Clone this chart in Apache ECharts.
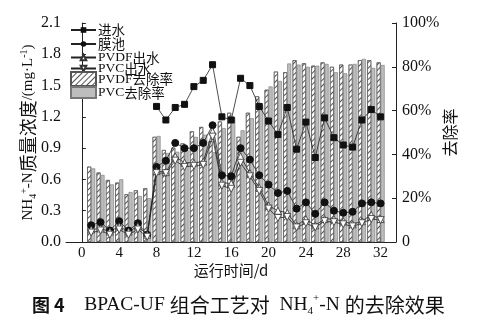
<!DOCTYPE html>
<html>
<head>
<meta charset="utf-8">
<script src="https://cdn.jsdelivr.net/npm/echarts@6/dist/echarts.min.js"></script>
<style>
  html, body { margin: 0; padding: 0; background: #fff; }
  #chart { width: 494px; height: 322px; }
</style>
</head>
<body>
<div id="chart"></div>
<script>
// Operating day
const days = [1, 2, 3, 4, 5, 6, 7, 8, 9, 10, 11, 12, 13, 14, 15, 16,
              17, 18, 19, 20, 21, 22, 23, 24, 25, 26, 27, 28, 29, 30, 31, 32];
// NH4+-N concentration, mg/L
const influent = [null, null, null, null, null, null, null, 1.30, 1.17, 1.29, 1.32, 1.49, 1.55, 1.70, 1.20, 1.17,
                  1.57, 1.50, 1.30, 1.16, 1.03, 1.29, 0.89, 1.15, 0.81, 1.19, 1.00, 0.93, 0.91, 1.17, 1.27, 1.20];
const tank = [0.16, 0.19, 0.11, 0.20, 0.11, 0.18, 0.07, 0.72, 0.78, 0.95, 0.90, 0.90, 0.95, 1.12, 0.64, 0.63,
              0.90, 0.79, 0.64, 0.55, 0.47, 0.49, 0.32, 0.38, 0.27, 0.38, 0.30, 0.28, 0.29, 0.37, 0.38, 0.37];
const pvdfOut = [0.12, 0.13, 0.10, 0.15, 0.10, 0.15, 0.07, 0.68, 0.67, 0.82, 0.76, 0.76, 0.77, 1.06, 0.57, 0.56,
                 0.82, 0.66, 0.52, 0.35, 0.30, 0.28, 0.16, 0.22, 0.16, 0.22, 0.22, 0.20, 0.17, 0.20, 0.26, 0.22];
const pvcOut = [0.09, 0.11, 0.07, 0.12, 0.07, 0.12, 0.05, 0.66, 0.66, 0.78, 0.72, 0.73, 0.74, 1.01, 0.54, 0.51,
                0.76, 0.63, 0.49, 0.32, 0.23, 0.24, 0.14, 0.18, 0.14, 0.20, 0.19, 0.17, 0.15, 0.18, 0.22, 0.21];
// Removal rate, %
const pvdfRate = [34.4, 31.7, 28.3, 27.1, 21.8, 23.6, 24.5, 48.0, 42.0, 43.0, 45.0, 50.5, 52.5, 46.0, 55.0, 59.0,
                  48.0, 59.0, 66.5, 69.5, 77.8, 77.5, 83.0, 81.6, 80.5, 82.0, 80.0, 81.0, 81.0, 83.0, 83.0, 82.0];
const pvcRate = [33.6, 30.6, 26.3, 28.6, 22.8, 21.0, 20.0, 48.4, 40.6, 41.2, 42.0, 48.0, 49.0, 41.0, 52.0, 57.0,
                 51.0, 56.5, 62.5, 71.0, 73.5, 81.5, 81.0, 80.0, 80.5, 81.3, 77.5, 77.0, 81.3, 83.6, 79.5, 80.8];
// Axis ticks
const dayTicks = [0, 4, 8, 12, 16, 20, 24, 28, 32];

const names = ['进水', '膜池', 'PVDF出水', 'PVC出水', 'PVDF去除率', 'PVC去除率'];

const SERIF = "'Liberation Serif', 'Noto Sans CJK SC', serif";
const CJK = "'Noto Sans CJK SC', sans-serif";

const pair = (ys) => days.map((d, i) => [d, ys[i]]);

const lineBase = {
  type: 'line',
  yAxisIndex: 0,
  z: 5,
  lineStyle: { color: '#222', width: 0.8 },
  symbolSize: 6,
  connectNulls: false
};

// one legend block per row so the rows sit tightly stacked
const rowCenters = [30, 44, 57.5, 68.5, 79, 92.5];
const rowIconHeights = [7, 7, 7, 7, 14, 11];
const TEXT_LH = 16;
const legends = names.map((name, i) => {
  const isBar = i >= 4;
  const h = rowIconHeights[i];
  const box = Math.max(h, TEXT_LH);
  return {
    data: isBar ? [{ name, icon: 'rect' }] : [name],
    orient: 'vertical',
    left: 70,
    top: rowCenters[i] - box / 2,
    padding: 0,
    itemWidth: 25,
    itemHeight: h,
    symbolRotate: 'inherit',
    formatter: (n) => n.replace(/([\u4e00-\u9fff]+)/g, '{c|$1}'),
    textStyle: {
      fontFamily: SERIF,
      fontSize: 13.5,
      lineHeight: TEXT_LH,
      color: '#111',
      padding: [0, 0, 0, -3],
      rich: { c: { fontFamily: CJK, fontSize: 13.5, lineHeight: TEXT_LH, color: '#111' } }
    }
  };
});

const chart = echarts.init(document.getElementById('chart'), null, { renderer: 'canvas' });

chart.setOption({
  animation: false,
  backgroundColor: '#fff',
  title: {
    left: 27,
    top: 288,
    text: '{hb|图 4}{n|    BPAC-UF }{c|组合工艺对}{n|  NH}{sb|4}{sp|+}{n|-N }{c|的去除效果}',
    textStyle: {
      fontWeight: 'normal',
      rich: {
        hb: { fontFamily: CJK, fontWeight: 'bold', fontSize: 18, color: '#111' },
        n: { fontFamily: SERIF, fontWeight: 'normal', fontSize: 19.5, color: '#111' },
        c: { fontFamily: CJK, fontWeight: 'normal', fontSize: 20, color: '#111' },
        sb: { fontFamily: SERIF, fontWeight: 'normal', fontSize: 11, color: '#111', verticalAlign: 'bottom', lineHeight: 24 },
        sp: { fontFamily: SERIF, fontWeight: 'normal', fontSize: 11, color: '#111', verticalAlign: 'top', lineHeight: 24 }
      }
    }
  },
  legend: legends,
  grid: { left: 66, right: 98, top: 23, bottom: 80 },
  xAxis: {
    type: 'value',
    min: -1.7,
    max: 33.65,
    name: '运行时间/d',
    nameLocation: 'middle',
    nameGap: 21,
    nameMoveOverlap: false,
    nameTextStyle: { fontFamily: CJK, fontSize: 15, color: '#111' },
    axisLine: { lineStyle: { color: '#222', width: 1 } },
    axisTick: { inside: true, length: 4, customValues: dayTicks, lineStyle: { color: '#222' } },
    axisLabel: { customValues: dayTicks, fontFamily: SERIF, fontSize: 15, color: '#111', margin: 4 },
    splitLine: { show: false }
  },
  yAxis: [
    {
      type: 'value',
      min: 0,
      max: 2.1,
      interval: 0.3,
      name: '{n|NH}{sb|4}{sp|+}{n|-N}{c|质量浓度}{n|/(mg·L}{sp|-1}{n|)}',
      nameLocation: 'middle',
      nameRotate: 90,
      nameGap: 28,
      nameMoveOverlap: false,
      nameTextStyle: {
        rich: {
          n: { fontFamily: SERIF, fontSize: 15, color: '#111' },
          c: { fontFamily: CJK, fontSize: 18, color: '#111' },
          sb: { fontFamily: SERIF, fontSize: 10, color: '#111', verticalAlign: 'bottom', lineHeight: 19 },
          sp: { fontFamily: SERIF, fontSize: 10, color: '#111', verticalAlign: 'top', lineHeight: 19 }
        }
      },
      axisLine: { show: true, lineStyle: { color: '#222', width: 1 } },
      axisTick: { show: true, inside: true, length: 4, lineStyle: { color: '#222' } },
      axisLabel: {
        fontFamily: SERIF, fontSize: 16, color: '#111', margin: 5,
        formatter: (v) => v.toFixed(1)
      },
      splitLine: { show: false }
    },
    {
      type: 'value',
      min: 0,
      max: 100,
      interval: 20,
      position: 'right',
      name: '去除率',
      nameLocation: 'middle',
      nameRotate: 90,
      nameGap: 46,
      nameMoveOverlap: false,
      nameTextStyle: { fontFamily: CJK, fontSize: 16, color: '#111' },
      axisLine: { show: true, lineStyle: { color: '#222', width: 1 } },
      axisTick: { show: true, inside: true, length: 4, lineStyle: { color: '#222' } },
      axisLabel: {
        fontFamily: SERIF, fontSize: 16, color: '#111', margin: 6,
        formatter: (v) => (v === 0 ? '0' : v + '%')
      },
      splitLine: { show: false }
    }
  ],
  series: [
    {
      ...lineBase,
      name: '进水',
      data: pair(influent),
      symbol: 'rect',
      symbolSize: 6,
      itemStyle: { color: '#111', borderColor: '#111' }
    },
    {
      ...lineBase,
      name: '膜池',
      data: pair(tank),
      symbol: 'circle',
      symbolSize: 7,
      itemStyle: { color: '#111', borderColor: '#111' }
    },
    {
      ...lineBase,
      name: 'PVDF出水',
      data: pair(pvdfOut),
      symbol: 'triangle',
      symbolSize: 7,
      itemStyle: { color: '#fff', borderColor: '#333', borderWidth: 0.8 }
    },
    {
      ...lineBase,
      name: 'PVC出水',
      data: pair(pvcOut),
      symbol: 'triangle',
      symbolRotate: 180,
      symbolSize: 7,
      itemStyle: { color: '#fff', borderColor: '#333', borderWidth: 0.8 }
    },
    {
      type: 'bar',
      name: 'PVDF去除率',
      yAxisIndex: 1,
      z: 2,
      barWidth: 4,
      barGap: '0%',
      data: pair(pvdfRate),
      itemStyle: {
        color: '#fff',
        borderColor: '#555',
        borderWidth: 0.6,
        decal: {
          symbol: 'rect',
          symbolSize: 1,
          color: '#555',
          dashArrayX: [1, 0],
          dashArrayY: [1, 2.5],
          rotation: -Math.PI / 4
        }
      }
    },
    {
      type: 'bar',
      name: 'PVC去除率',
      yAxisIndex: 1,
      z: 2,
      barWidth: 4,
      barGap: '0%',
      data: pair(pvcRate),
      itemStyle: { color: '#bdbdbd', borderColor: '#777', borderWidth: 0.6 }
    }
  ]
});
</script>
</body>
</html>
